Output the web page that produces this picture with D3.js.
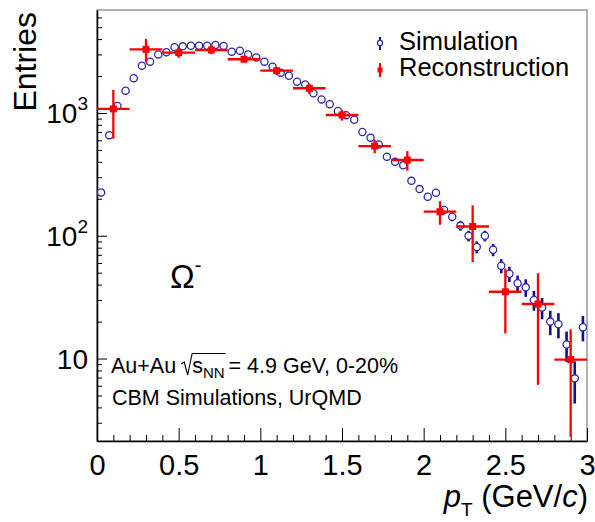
<!DOCTYPE html>
<html>
<head>
<meta charset="utf-8">
<script src="https://cdn.jsdelivr.net/npm/d3@7"></script>
<style>
  body { margin: 0; background: #fff; }
  text { font-family: "Liberation Sans", Arial, Helvetica, sans-serif; fill: #000; }
</style>
</head>
<body>
<div id="chart"></div>
<script>
// Simulation: 0.05 GeV/c bins
var simPt = [0.025,0.075,0.125,0.175,0.225,0.275,0.325,0.375,0.425,0.475,
             0.525,0.575,0.625,0.675,0.725,0.775,0.825,0.875,0.925,0.975,
             1.025,1.075,1.125,1.175,1.225,1.275,1.325,1.375,1.425,1.475,
             1.525,1.575,1.625,1.675,1.725,1.775,1.825,1.875,1.925,1.975,
             2.025,2.075,2.125,2.175,2.225,2.275,2.325,2.375,2.425,2.475,
             2.525,2.575,2.625,2.675,2.725,2.775,2.825,2.875,2.925,2.975];
var simEntries = [225,660,1140,1520,1920,2430,2620,3000,3120,3430,
                  3490,3530,3530,3530,3580,3520,3160,3220,3000,2830,
                  2620,2380,2130,2010,1800,1710,1450,1290,1180,1040,
                  960,880,700,630,555,440,400,375,280,240,
                  208,224,162,143,121,100,81,100,77,57,
                  49,41,38,30,26,20,19,13,6.9,18];
var simErr = [15,26,34,39,44,49,51,55,56,59,
              59,59,59,59,60,59,56,57,55,53,
              51,49,46,45,42,41,38,36,34,32,
              31,30,26,25,24,21,20,19,17,15.5,
              14.4,15,12.7,12,11,10,9,10,8.8,7.5,
              7,6.4,6.2,5.5,5.1,4.5,4.4,3.6,2.6,4.2];

// Reconstruction: 0.2 GeV/c bins
var recoPt = [0.1,0.3,0.5,0.7,0.9,1.1,1.3,1.5,1.7,1.9,2.1,2.3,2.5,2.7,2.9];
var recoEntries = [1080,3300,3100,3260,2740,2210,1590,963,538,414,157,119,35,27.8,9.8];
var recoErr = [462,720,285,245,150,170,150,96,68,75,34,58,19,21.7,7.5];
var recoHalfWidth = 0.1;

var xMajor = [0,0.5,1,1.5,2,2.5,3];
var xLabels = ["0","0.5","1","1.5","2","2.5","3"];
var yMajor = [10,100,1000];
var yLabels = [["10",""],["10","2"],["10","3"]];

var W = 595, H = 522;
var margin = {top: 10, right: 8, bottom: 81, left: 97},
    width = W - margin.left - margin.right,
    height = H - margin.top - margin.bottom;

var simColor = "#2a2aa6", simBar = "#10108c", recoColor = "#ff0000";

var svg = d3.select("#chart").append("svg")
    .attr("width", W).attr("height", H);
var g = svg.append("g")
    .attr("transform", "translate(" + margin.left + "," + margin.top + ")");

var x = d3.scaleLinear().domain([0, 3]).range([0, width]);
var y = d3.scaleLog().domain([2.13, 6900]).range([height, 0]);

svg.append("clipPath").attr("id", "clip")
  .append("rect").attr("width", width).attr("height", height);

// grey frame (top / right)
g.append("rect")
    .attr("width", width).attr("height", height)
    .attr("fill", "none").attr("stroke", "#999").attr("stroke-width", 1.5);

// X axis
var xMinor = d3.range(0, 3.001, 0.1).filter(function(v) { return Math.abs(v*2 - Math.round(v*2)) > 1e-6; });
g.append("g").attr("transform", "translate(0," + height + ")")
    .call(d3.axisBottom(x).tickValues(xMinor).tickSize(-6).tickSizeOuter(0).tickFormat(""))
    .call(function(s) { s.select(".domain").remove(); });
var xAxis = g.append("g").attr("transform", "translate(0," + height + ")")
    .call(d3.axisBottom(x).tickValues(xMajor).tickSize(-13).tickSizeOuter(0)
          .tickPadding(13).tickFormat(function(d, i) { return xLabels[i]; }));
xAxis.select(".domain").attr("stroke-width", 1.6);
xAxis.selectAll("text").attr("font-size", 29).attr("font-family", "Liberation Sans, Arial, sans-serif");

// Y axis
var yMinor = [];
[1, 10, 100, 1000].forEach(function(dec) {
  for (var m = 2; m <= 9; m++) {
    var v = m * dec;
    if (v > 2.13 && v < 6900) yMinor.push(v);
  }
});
g.append("g")
    .call(d3.axisLeft(y).tickValues(yMinor).tickSize(-5).tickSizeOuter(0).tickFormat(""))
    .call(function(s) { s.select(".domain").remove(); });
var yAxis = g.append("g")
    .call(d3.axisLeft(y).tickValues(yMajor).tickSize(-10).tickSizeOuter(0).tickFormat(""));
yAxis.select(".domain").attr("stroke-width", 1.6);

yMajor.forEach(function(v, i) {
  var t = g.append("text")
      .attr("x", -9).attr("y", y(v) + 10)
      .attr("text-anchor", "end").attr("font-size", 28);
  t.append("tspan").text(yLabels[i][0]);
  if (yLabels[i][1]) t.append("tspan").attr("font-size", 19).attr("dy", -13).text(yLabels[i][1]);
});

// axis titles
svg.append("text")
    .attr("transform", "translate(36,12) rotate(-90)")
    .attr("text-anchor", "end").attr("font-size", 32)
    .text("Entries");

var xt = svg.append("text")
    .attr("x", 588).attr("y", 507)
    .attr("text-anchor", "end").attr("font-size", 31);
xt.append("tspan").attr("font-style", "italic").text("p");
xt.append("tspan").attr("font-size", 19).attr("dy", 9).text("T");
xt.append("tspan").attr("dy", -9).text("\u00a0(GeV/");
xt.append("tspan").attr("font-style", "italic").text("c");
xt.append("tspan").text(")");

// data
var plot = g.append("g").attr("clip-path", "url(#clip)");

var sim = plot.append("g");
sim.selectAll("line.err")
    .data(simPt)
  .enter().append("line")
    .attr("class", "err")
    .attr("x1", function(d) { return x(d); })
    .attr("x2", function(d) { return x(d); })
    .attr("y1", function(d, i) { return y(simEntries[i] + simErr[i]); })
    .attr("y2", function(d, i) { return y(Math.max(simEntries[i] - simErr[i], 1e-3)); })
    .attr("stroke", simBar).attr("stroke-width", 2.6);
sim.selectAll("circle")
    .data(simPt)
  .enter().append("circle")
    .attr("cx", function(d) { return x(d); })
    .attr("cy", function(d, i) { return y(simEntries[i]); })
    .attr("r", 3.6)
    .attr("fill", "#fff").attr("stroke", simColor).attr("stroke-width", 1.3);

var reco = plot.append("g");
reco.selectAll("line.h")
    .data(recoPt)
  .enter().append("line")
    .attr("class", "h")
    .attr("x1", function(d) { return x(d - recoHalfWidth); })
    .attr("x2", function(d) { return x(d + recoHalfWidth); })
    .attr("y1", function(d, i) { return y(recoEntries[i]); })
    .attr("y2", function(d, i) { return y(recoEntries[i]); })
    .attr("stroke", recoColor).attr("stroke-width", 2.3);
reco.selectAll("line.v")
    .data(recoPt)
  .enter().append("line")
    .attr("class", "v")
    .attr("x1", function(d) { return x(d); })
    .attr("x2", function(d) { return x(d); })
    .attr("y1", function(d, i) { return y(recoEntries[i] + recoErr[i]); })
    .attr("y2", function(d, i) { return y(Math.max(recoEntries[i] - recoErr[i], 1e-3)); })
    .attr("stroke", recoColor).attr("stroke-width", 2.3);
reco.selectAll("rect")
    .data(recoPt)
  .enter().append("rect")
    .attr("x", function(d) { return x(d) - 3.5; })
    .attr("y", function(d, i) { return y(recoEntries[i]) - 3.5; })
    .attr("width", 7).attr("height", 7)
    .attr("fill", recoColor);

// legend
var leg = svg.append("g");
leg.append("line").attr("x1", 380).attr("x2", 380).attr("y1", 37).attr("y2", 50)
    .attr("stroke", simBar).attr("stroke-width", 2);
leg.append("circle").attr("cx", 380).attr("cy", 43).attr("r", 2.6)
    .attr("fill", "#fff").attr("stroke", simColor).attr("stroke-width", 1.2);
leg.append("line").attr("x1", 380).attr("x2", 380).attr("y1", 63).attr("y2", 77)
    .attr("stroke", recoColor).attr("stroke-width", 2);
leg.append("rect").attr("x", 377.5).attr("y", 67.5).attr("width", 5).attr("height", 5)
    .attr("fill", recoColor);
leg.append("text").attr("x", 399).attr("y", 50).attr("font-size", 25.5).text("Simulation");
leg.append("text").attr("x", 399).attr("y", 76).attr("font-size", 25.5).text("Reconstruction");

// Omega label
var om = svg.append("text").attr("x", 170).attr("y", 288)
    .attr("font-family", "Liberation Serif, Times New Roman, serif").attr("font-size", 33);
om.append("tspan").text("\u03a9");
om.append("tspan").attr("font-size", 20).attr("dy", -16).text("-");

// collision label with sqrt(s_NN)
var fs = 21.5;
var t1 = svg.append("text").attr("x", 111).attr("y", 373).attr("font-size", fs).text("Au+Au");
var x0 = 111 + t1.node().getComputedTextLength() + 5;
var sTxt = svg.append("text").attr("x", x0 + 11).attr("y", 373).attr("font-size", fs);
sTxt.append("tspan").text("s");
sTxt.append("tspan").attr("font-size", 15).attr("dy", 5).text("NN");
var rEnd = x0 + 11 + sTxt.node().getComputedTextLength() + 1;
svg.append("path")
    .attr("d", "M" + x0 + ",364 L" + (x0 + 3) + ",362 L" + (x0 + 6.5) + ",375 L" + (x0 + 11) + ",353.5 L" + rEnd + ",353.5")
    .attr("fill", "none").attr("stroke", "#000").attr("stroke-width", 1.1);
svg.append("text").attr("x", rEnd + 3).attr("y", 373).attr("font-size", fs)
    .text("= 4.9 GeV, 0-20%");
svg.append("text").attr("x", 112).attr("y", 405).attr("font-size", fs)
    .text("CBM Simulations, UrQMD");
</script>
</body>
</html>
